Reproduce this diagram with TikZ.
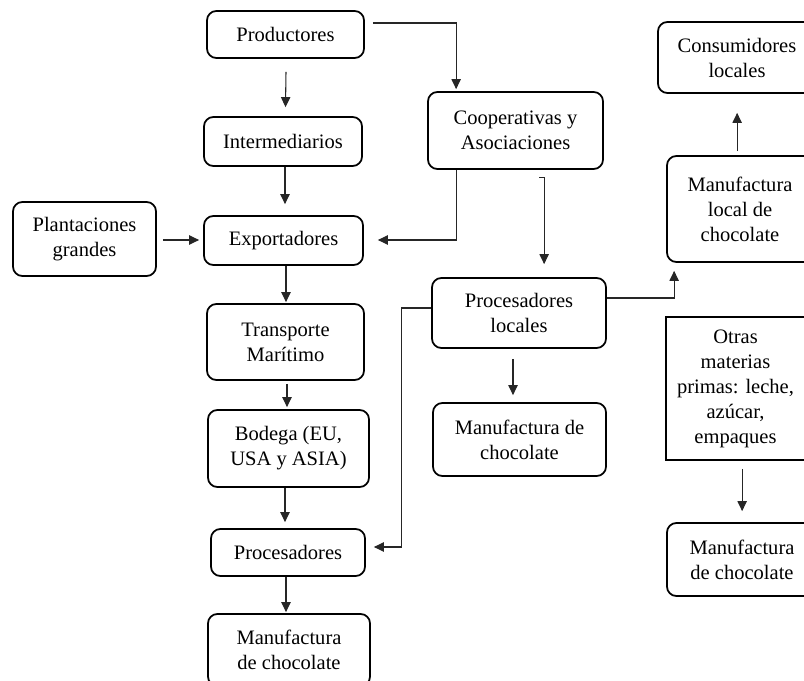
\documentclass[tikz,border=0pt]{standalone}
\usepackage{fontspec}
\setmainfont{Liberation Serif}
\usetikzlibrary{arrows.meta,calc}
\tikzset{
  rbox/.style={draw, line width=1.3pt, rounded corners=7pt, align=center, inner sep=0pt,
    font=\fontsize{15.4}{18.75}\selectfont},
  sbox/.style={draw, line width=1.3pt, align=center, inner sep=0pt,
    font=\fontsize{15.4}{18.75}\selectfont},
  arr/.style={draw=black!85, line width=0.8pt, -{Triangle[length=7.5pt,width=7pt]}}
}
\newcommand\mybox[7]{%
  \node[#1, minimum width={(#5-#3)*0.75pt}, minimum height={(#6-#4)*0.75pt}] (#2) at ({(#3+#5)/2},{(#4+#6)/2}) {#7};}
\begin{document}
\begin{tikzpicture}[x=0.75pt,y=-0.75pt]
\useasboundingbox (0,0) rectangle (804,681);
\clip (0,0) rectangle (804,681);
\mybox{rbox}{prod}{207}{11}{364}{58}{Productores}
\mybox{rbox}{inter}{204}{117}{362}{166}{Intermediarios}
\mybox{rbox}{coop}{428}{92}{603}{169}{Cooperativas y\\Asociaciones}
\mybox{rbox}{plant}{13}{202}{156}{276}{Plantaciones\\grandes}
\mybox{rbox}{exp}{204}{216}{363}{265}{Exportadores}
\mybox{rbox}{trans}{207}{304}{364}{380}{Transporte\\Marítimo}
\mybox{rbox}{bod}{208}{410}{369}{487}{Bodega (EU,\\USA y ASIA)}
\mybox{rbox}{proc}{211}{529}{365}{576}{Procesadores}
\mybox{rbox}{manu}{208}{614}{370}{686}{Manufactura\\de chocolate}
\mybox{rbox}{procl}{432}{278}{606}{348}{Procesadores\\locales}
\mybox{rbox}{manl}{433}{403}{606}{476}{Manufactura de\\chocolate}
\mybox{rbox}{cons}{658}{22}{816}{93}{Consumidores\\locales}
\mybox{rbox}{manloc}{667}{156}{813}{262}{Manufactura\\local de\\chocolate}
\mybox{sbox}{otras}{666}{317}{805}{460}{Otras\\materias\\primas: leche,\\azúcar,\\empaques}
\mybox{rbox}{manr}{667}{523}{817}{596}{Manufactura\\de chocolate}

% connectors
\draw[arr] ($(prod.south)+(0.5,13)$) -- ($(inter.north)+(2.5,-9)$);
\draw[arr] ($(prod.east)+(8,-11.5)$) -| ($(coop.north west)+(29,-2)$);
\draw[arr] ($(inter.south)+(2,0)$) -- ($(exp.north)+(1.5,-11)$);
\draw[arr] ($(plant.east)+(6,1)$) -- ($(exp.west)+(-4,-0.5)$);
\draw[arr] ($(coop.south west)+(29,0)$) |- ($(exp.east)+(14,-0.5)$);
\draw[arr] ($(coop.south west)+(112,8)$) -- ++(5,0) -- ($(procl.north west)+(113,-13)$);
\draw[arr] ($(exp.south)+(2.5,0)$) -- ($(trans.north)+(0.5,-1)$);
\draw[arr] ($(trans.south)+(1.5,3)$) -- ($(bod.north)+(-1.5,-2)$);
\draw[arr] ($(bod.south)+(-3.5,0)$) -- ($(proc.north)+(-3,-6)$);
\draw[arr] ($(proc.south)+(-2,0)$) -- ($(manu.north)+(-3,-1)$);
\draw[arr] ($(procl.west)+(0,-5)$) -- ++(-30,0) |- ($(proc.east)+(8,-5.5)$);
\draw[arr] ($(procl.south)+(-6,10)$) -- ($(manl.north)+(-6.5,-7)$);
\draw[arr] ($(procl.east)+(0,-15)$) -| ($(manloc.south west)+(8,8)$);
\draw[arr] ($(manloc.north west)+(71,-4)$) -- ($(cons.south west)+(80,19)$);
\draw[arr] ($(otras.south west)+(77,8)$) -- ($(manr.north west)+(76,-11)$);
\end{tikzpicture}
\end{document}
